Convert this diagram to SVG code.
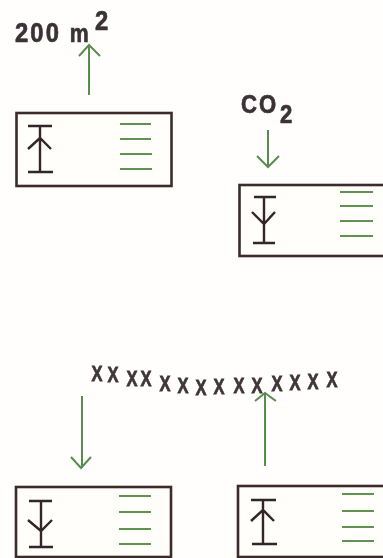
<svg xmlns="http://www.w3.org/2000/svg" width="383" height="558" viewBox="0 0 383 558">
<style>
.box{fill:#fffefb;stroke:#3d2b2b;stroke-width:2.6}
.sym{fill:none;stroke:#33262a;stroke-width:2.4}
.gl{fill:none;stroke:#5f9350;stroke-width:2.2}
.ar{fill:none;stroke:#5a8c50;stroke-width:2}
.t{font-family:"Liberation Sans",Arial,sans-serif;font-weight:bold;fill:#3a3236;stroke:#3a3236;stroke-width:.7}
.x{font-family:"Liberation Sans",Arial,sans-serif;font-weight:bold;font-size:22px;fill:#3f3538;stroke:#3f3538;stroke-width:.8;text-anchor:middle}
</style>
<defs><filter id="soft" x="-2%" y="-2%" width="104%" height="104%"><feGaussianBlur stdDeviation="0.45"/></filter></defs>
<rect width="383" height="558" fill="#fffefc"/>
<g filter="url(#soft)">
<g id="connectors">
<path class="ar" d="M89 95V45M79 56L89 45L100 56"/>
<path class="ar" d="M268 130V167M257 156L268 167L279 156"/>
<path class="ar" d="M82 396V468M71 457L81 468L91 457"/>
<path class="ar" d="M265 466V393M255 401L265 393L276 401"/>
</g>
<g id="label-200m2"><text class="t" transform="translate(15 42) scale(.85 1)" font-size="28" letter-spacing="2.500">200 <tspan font-size="25">m</tspan></text><text class="t" transform="translate(95 30) scale(.85 1)" font-size="28">2</text></g>
<g id="label-co2"><text class="t" transform="translate(241 113) scale(.85 1)" font-size="26" letter-spacing="2.500">CO</text><text class="t" transform="translate(280 123) scale(.85 1)" font-size="26">2</text></g>
<g id="node-top-left">
<rect class="box" x="16.500" y="113" width="155" height="73"/>
<path class="sym" d="M28 126H52M28 172H53M40 126V172M28 149L40 138L51 149"/>
<path class="gl" d="M120 124H151M120 139H151M120 154H152M120 169H152"/>
</g>
<g id="node-top-right">
<rect class="box" x="239.500" y="185" width="150" height="71"/>
<path class="sym" d="M254 197H276M253 243H275M264 197V243M252 212L264 224L275 212"/>
<path class="gl" d="M340 192H373M340 206H373M340 221H373M340 236H373"/>
</g>
<g id="node-bottom-left">
<rect class="box" x="16" y="487" width="155" height="70"/>
<path class="sym" d="M29 501H52M29 547H53M41 501V547M28 520L41 531L52 520"/>
<path class="gl" d="M119 496H151M119 512H151M119 529H151M119 544H151"/>
</g>
<g id="node-bottom-right">
<rect class="box" x="238" y="486" width="152" height="71"/>
<path class="sym" d="M251 500H276M252 544H277M263 500V544M251 521L263 510L274 521"/>
<path class="gl" d="M342 494H374M342 511H374M342 527H374M342 541H374"/>
</g>
<g id="crosses">
<text class="x" transform="translate(97 381) scale(.75 1)">X</text>
<text class="x" transform="translate(113 382) scale(.75 1)">X</text>
<text class="x" transform="translate(132 386) scale(.75 1)">X</text>
<text class="x" transform="translate(146 386) scale(.75 1)">X</text>
<text class="x" transform="translate(165 391) scale(.75 1)">X</text>
<text class="x" transform="translate(183 393) scale(.75 1)">X</text>
<text class="x" transform="translate(201 395) scale(.75 1)">X</text>
<text class="x" transform="translate(219 394) scale(.75 1)">X</text>
<text class="x" transform="translate(239 393) scale(.75 1)">X</text>
<text class="x" transform="translate(257 393) scale(.75 1)">X</text>
<text class="x" transform="translate(277 391) scale(.75 1)">X</text>
<text class="x" transform="translate(295 390) scale(.75 1)">X</text>
<text class="x" transform="translate(313 389) scale(.75 1)">X</text>
<text class="x" transform="translate(332 387) scale(.75 1)">X</text>
</g>
</g>
</svg>
